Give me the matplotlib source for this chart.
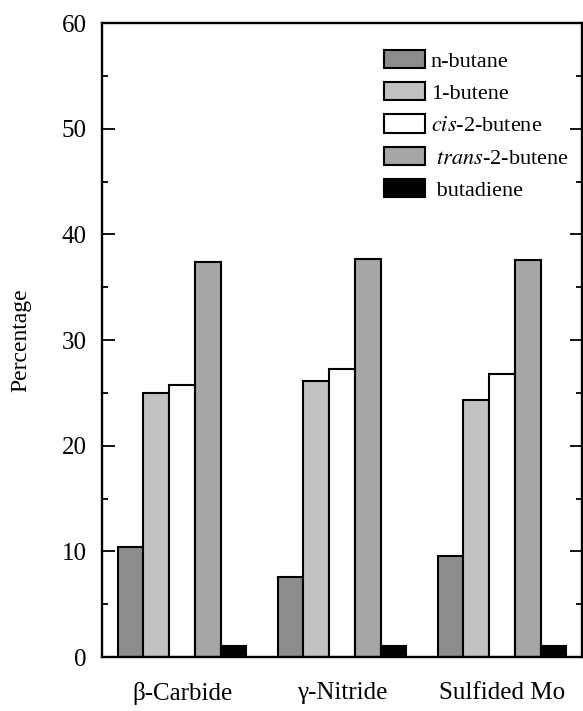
import numpy as np
import matplotlib
matplotlib.use("Agg")
import matplotlib.pyplot as plt
from matplotlib.ticker import MultipleLocator

plt.rcParams['font.family'] = ['Liberation Serif', 'DejaVu Serif']
plt.rcParams['mathtext.fontset'] = 'stix'

# catalysts on the x axis
catalysts = ['\u03b2-Carbide', '\u03b3-Nitride', 'Sulfided Mo']

# product distribution (%)
n_butane = [10.4, 7.6, 9.6]
butene_1 = [25.0, 26.1, 24.3]
cis_2_butene = [25.7, 27.3, 26.8]
trans_2_butene = [37.4, 37.7, 37.6]
butadiene = [1.0, 1.0, 1.0]

series = [n_butane, butene_1, cis_2_butene, trans_2_butene, butadiene]
labels = ['n-butane', '1-butene', r'$\mathit{cis}$-2-butene',
          r' $\mathit{trans}$-2-butene', ' butadiene']
colors = ['#8c8c8c', '#c1c1c1', '#ffffff', '#a6a6a6', '#000000']

fig = plt.figure(figsize=(5.83, 7.11), dpi=100)
ax = fig.add_axes([102/583, 54/711, 480/583, 634/711])

x = np.arange(len(catalysts))
w = 0.161
for i, (vals, lab, col) in enumerate(zip(series, labels, colors)):
    ax.bar(x + (i - 2) * w, vals, w, color=col, edgecolor='black',
           linewidth=1.5, label=lab)

ax.set_xlim(-0.5, 2.5)
ax.set_ylim(0, 60)
ax.set_xticks(x)
ax.set_xticklabels(catalysts, fontsize=18)
ax.tick_params(axis='x', length=0, pad=18)

ax.yaxis.set_major_locator(MultipleLocator(10))
ax.yaxis.set_minor_locator(MultipleLocator(5))
ax.tick_params(axis='y', which='both', direction='in', right=True,
               width=1.3, labelsize=18, pad=11)
ax.tick_params(axis='y', which='major', length=9)
ax.tick_params(axis='y', which='minor', length=4.5)

for s in ax.spines.values():
    s.set_linewidth(1.7)

ax.set_ylabel('Percentage', fontsize=17, labelpad=22)

ax.legend(loc='upper left', bbox_to_anchor=(0.5875, 0.958), frameon=False,
          fontsize=16, borderpad=0, borderaxespad=0, handlelength=1.85,
          handleheight=0.9, handletextpad=0.25, labelspacing=0.47)

plt.savefig('out.png', dpi=100)
